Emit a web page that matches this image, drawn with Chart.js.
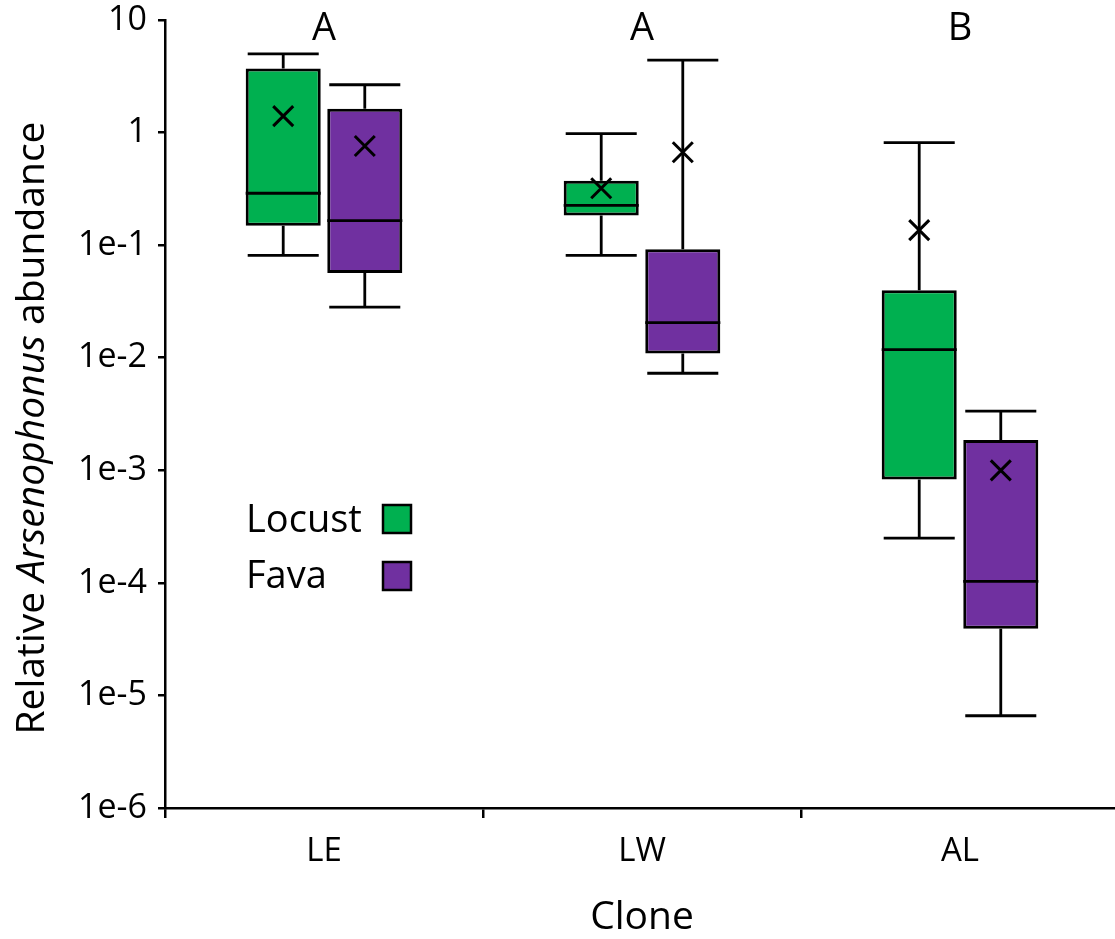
<!DOCTYPE html>
<html>
<head>
<meta charset="utf-8">
<script src="https://cdn.jsdelivr.net/npm/chart.js@4.4.1/dist/chart.umd.min.js"></script>
<style>
  html, body { margin: 0; padding: 0; background: #fff; overflow: hidden; }
  #wrap { width: 1119px; height: 939px; }
</style>
</head>
<body>
<div id="wrap"><canvas id="boxChart" width="1119" height="939"></canvas></div>
<script>
// clones on the x axis
const clones = ['LE', 'LW', 'AL'];
const groupLetters = ['A', 'A', 'B'];

// Locust series
const locustMin = [0.081, 0.081, 0.00025];
const locustQ1 = [0.149, 0.183, 0.00083];
const locustMedian = [0.289, 0.226, 0.0118];
const locustQ3 = [3.7, 0.374, 0.0397];
const locustMax = [5.0, 0.977, 0.815];
const locustMean = [1.40, 0.320, 0.136];

// Fava series
const favaMin = [0.0281, 0.00728, 0.0000066];
const favaQ1 = [0.0566, 0.0109, 0.0000391];
const favaMedian = [0.165, 0.0205, 0.000103];
const favaQ3 = [1.63, 0.0919, 0.00186];
const favaMax = [2.66, 4.41, 0.00336];
const favaMean = [0.760, 0.668, 0.000998];

const yTickValues = [10, 1, 1e-1, 1e-2, 1e-3, 1e-4, 1e-5, 1e-6];
const yTickLabels = ['10', '1', '1e-1', '1e-2', '1e-3', '1e-4', '1e-5', '1e-6'];

const FONT = "'Open Sans', sans-serif";
const GREEN = '#00B050';
const PURPLE = '#7030A0';

const stats = [
  { min: locustMin, q1: locustQ1, med: locustMedian, q3: locustQ3, max: locustMax, mean: locustMean },
  { min: favaMin, q1: favaQ1, med: favaMedian, q3: favaQ3, max: favaMax, mean: favaMean }
];

// whiskers, median lines and mean crosses on top of the floating bars
const boxParts = {
  id: 'boxParts',
  afterDatasetsDraw(chart) {
    const ctx = chart.ctx;
    const y = chart.scales.y;
    ctx.save();
    ctx.strokeStyle = '#000';
    ctx.lineCap = 'butt';
    chart.data.datasets.forEach((ds, d) => {
      const s = stats[d];
      chart.getDatasetMeta(d).data.forEach((bar, i) => {
        const x = bar.x;
        const half = bar.width / 2;
        const capHalf = half - 2;
        const yMin = y.getPixelForValue(s.min[i]);
        const yQ1 = y.getPixelForValue(s.q1[i]);
        const yMed = y.getPixelForValue(s.med[i]);
        const yQ3 = y.getPixelForValue(s.q3[i]);
        const yMax = y.getPixelForValue(s.max[i]);
        ctx.lineWidth = 2.8;
        ctx.beginPath();
        ctx.moveTo(x, yQ3); ctx.lineTo(x, yMax);
        ctx.moveTo(x - capHalf, yMax); ctx.lineTo(x + capHalf, yMax);
        ctx.moveTo(x, yQ1); ctx.lineTo(x, yMin);
        ctx.moveTo(x - capHalf, yMin); ctx.lineTo(x + capHalf, yMin);
        ctx.moveTo(x - half, yMed); ctx.lineTo(x + half, yMed);
        ctx.stroke();
        // mean cross
        const yMean = y.getPixelForValue(s.mean[i]);
        const r = 10;
        ctx.lineWidth = 3;
        ctx.beginPath();
        ctx.moveTo(x - r, yMean - r); ctx.lineTo(x + r, yMean + r);
        ctx.moveTo(x - r, yMean + r); ctx.lineTo(x + r, yMean - r);
        ctx.stroke();
      });
    });
    ctx.restore();
  }
};

// y title with italic genus name, group letters and legend
const decorations = {
  id: 'decorations',
  afterDraw(chart) {
    const ctx = chart.ctx;
    const xs = chart.scales.x;
    ctx.save();
    ctx.fillStyle = '#000';

    // letters above groups
    ctx.font = `38px ${FONT}`;
    ctx.textAlign = 'center';
    ctx.textBaseline = 'alphabetic';
    groupLetters.forEach((t, i) => ctx.fillText(t, xs.getPixelForValue(i), 40));

    // rotated y title
    const parts = [
      { t: 'Relative ', f: `39px ${FONT}` },
      { t: 'Arsenophonus', f: `italic 39px ${FONT}` },
      { t: ' abundance', f: `39px ${FONT}` }
    ];
    let total = 0;
    parts.forEach(p => { ctx.font = p.f; p.w = ctx.measureText(p.t).width; total += p.w; });
    ctx.translate(44, 428);
    ctx.rotate(-Math.PI / 2);
    ctx.textAlign = 'left';
    let pos = -total / 2;
    parts.forEach(p => { ctx.font = p.f; ctx.fillText(p.t, pos, 0); pos += p.w; });
    ctx.setTransform(1, 0, 0, 1, 0, 0);

    // legend: label then square
    ctx.font = `38px ${FONT}`;
    ctx.textAlign = 'left';
    const rows = [
      { label: chart.data.datasets[0].label, color: GREEN, base: 532, top: 505 },
      { label: chart.data.datasets[1].label, color: PURPLE, base: 588, top: 562 }
    ];
    rows.forEach(r => {
      ctx.fillStyle = '#000';
      ctx.fillText(r.label, 246, r.base);
      ctx.fillStyle = r.color;
      ctx.fillRect(383, r.top, 28, 28);
      ctx.lineWidth = 2.5;
      ctx.strokeStyle = '#000';
      ctx.strokeRect(383, r.top, 28, 28);
    });
    ctx.restore();
  }
};

new Chart(document.getElementById('boxChart'), {
  type: 'bar',
  data: {
    labels: clones,
    datasets: [
      {
        label: 'Locust',
        data: clones.map((c, i) => [locustQ1[i], locustQ3[i]]),
        backgroundColor: GREEN,
        borderColor: '#000',
        borderWidth: 3,
        borderSkipped: false,
        categoryPercentage: 0.513,
        barPercentage: 0.92
      },
      {
        label: 'Fava',
        data: clones.map((c, i) => [favaQ1[i], favaQ3[i]]),
        backgroundColor: PURPLE,
        borderColor: '#000',
        borderWidth: 3,
        borderSkipped: false,
        categoryPercentage: 0.513,
        barPercentage: 0.92
      }
    ]
  },
  options: {
    responsive: false,
    animation: false,
    devicePixelRatio: 1,
    layout: { padding: { top: 20, left: 0, right: 0, bottom: 0 } },
    plugins: { legend: { display: false }, tooltip: { enabled: false } },
    scales: {
      x: {
        offset: true,
        grid: { offset: true, drawOnChartArea: false, drawTicks: true, tickLength: 10, color: '#000', lineWidth: 2.5 },
        border: { display: true, color: '#000', width: 2.5 },
        ticks: { color: '#000', font: { family: FONT, size: 33 }, padding: 14 },
        title: { display: true, text: 'Clone', color: '#000', font: { family: FONT, size: 39, lineHeight: 1 }, padding: { top: 0, bottom: 2 } },
        afterFit: s => { s.height = 131; s.paddingLeft = 0; s.paddingRight = 0; }
      },
      y: {
        type: 'logarithmic',
        min: 1e-6,
        max: 10,
        afterBuildTicks: s => { s.ticks = yTickValues.map(v => ({ value: v })); },
        grid: { drawOnChartArea: false, drawTicks: true, tickLength: 7, color: '#000', lineWidth: 2.5 },
        border: { display: true, color: '#000', width: 2.5 },
        ticks: {
          color: '#000',
          font: { family: FONT, size: 34 },
          padding: 11,
          autoSkip: false,
          callback: (v, i) => yTickLabels[i]
        },
        afterFit: s => { s.width = 165; s.paddingTop = 0; s.paddingBottom = 0; }
      }
    }
  },
  plugins: [boxParts, decorations]
});
</script>
</body>
</html>
